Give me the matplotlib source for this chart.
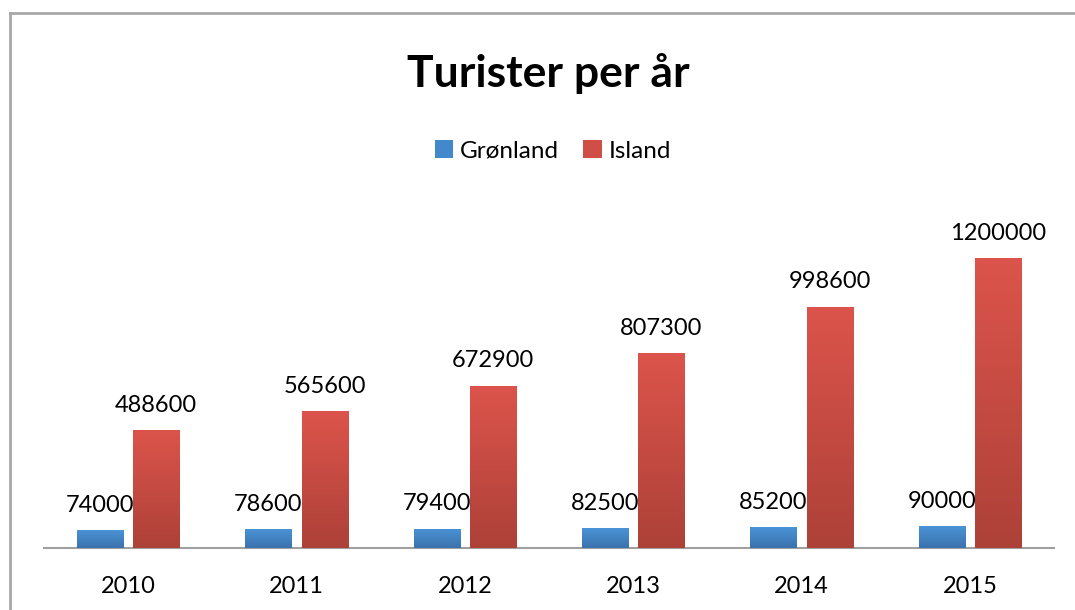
import matplotlib
matplotlib.use("Agg")
import matplotlib.pyplot as plt
import numpy as np
from matplotlib.colors import LinearSegmentedColormap
from matplotlib.patches import Rectangle

years = ["2010", "2011", "2012", "2013", "2014", "2015"]
gronland = [74000, 78600, 79400, 82500, 85200, 90000]
island = [488600, 565600, 672900, 807300, 998600, 1200000]

plt.rcParams['font.family'] = ['Lato', 'DejaVu Sans']

fig = plt.figure(figsize=(10.75, 6.1), dpi=100)
ax = fig.add_axes([44/1075, 62/610, 1010/1075, 338/610])

x = np.arange(len(years))
w = 46 / 168.3
gap = 10 / 168.3

blue_cm = LinearSegmentedColormap.from_list("b", ["#3b72ad", "#4a93d6"])
red_cm = LinearSegmentedColormap.from_list("r", ["#ad4138", "#dc544b"])

def gradient_bars(bars, cmap):
    grad = np.linspace(0, 1, 256).reshape(-1, 1)
    for b in bars:
        bx, by = b.get_x(), b.get_y()
        bw, bh = b.get_width(), b.get_height()
        im = ax.imshow(grad, cmap=cmap, origin="lower", aspect="auto",
                       extent=[bx, bx + bw, by, by + bh], zorder=3)
        im.set_clip_path(b)
        b.set_facecolor("none")

b1 = ax.bar(x - (w + gap) / 2, gronland, w, color="#4a93d6", zorder=2,
            label="Grønland")
b2 = ax.bar(x + (w + gap) / 2, island, w, color="#dc544b", zorder=2,
            label="Island")
gradient_bars(b1, blue_cm)
gradient_bars(b2, red_cm)

for xi, v in zip(x - (w + gap) / 2, gronland):
    ax.text(xi, v + 60000, str(v), ha="center", va="bottom", fontsize=17)
for xi, v in zip(x + (w + gap) / 2, island):
    ax.text(xi, v + 60000, str(v), ha="center", va="bottom", fontsize=17)

ax.set_xlim(-0.5, len(years) - 0.5)
ax.set_ylim(0, 1400000)
ax.set_xticks(x)
ax.set_xticklabels(years, fontsize=17)
ax.tick_params(axis="x", length=0, pad=20)
ax.set_yticks([])
for s in ["top", "right", "left"]:
    ax.spines[s].set_visible(False)
ax.spines["bottom"].set_color("#a0a0a0")
ax.spines["bottom"].set_linewidth(1.5)

# legend with plain colour squares
handles = [Rectangle((0, 0), 1, 1, facecolor="#4289cb"),
           Rectangle((0, 0), 1, 1, facecolor="#cf4e45")]
fig.legend(handles, ["Grønland", "Island"], loc="center",
           bbox_to_anchor=(553/1075, 1 - 151/610), ncol=2, frameon=False,
           fontsize=17.5, handlelength=0.75, handleheight=0.75,
           handletextpad=0.3, columnspacing=1.0)

fig.text(548/1075, 1 - 73/610, "Turister per år", ha="center", va="center",
         fontsize=32, fontweight="bold")

# chart border
fig.add_artist(plt.Line2D([10/1075, 1], [1 - 13/610, 1 - 13/610],
                          color="#a8a8a8", lw=2, transform=fig.transFigure))
fig.add_artist(plt.Line2D([10/1075, 10/1075], [0, 1 - 13/610],
                          color="#a8a8a8", lw=2, transform=fig.transFigure))

fig.savefig("out.png", dpi=100)
